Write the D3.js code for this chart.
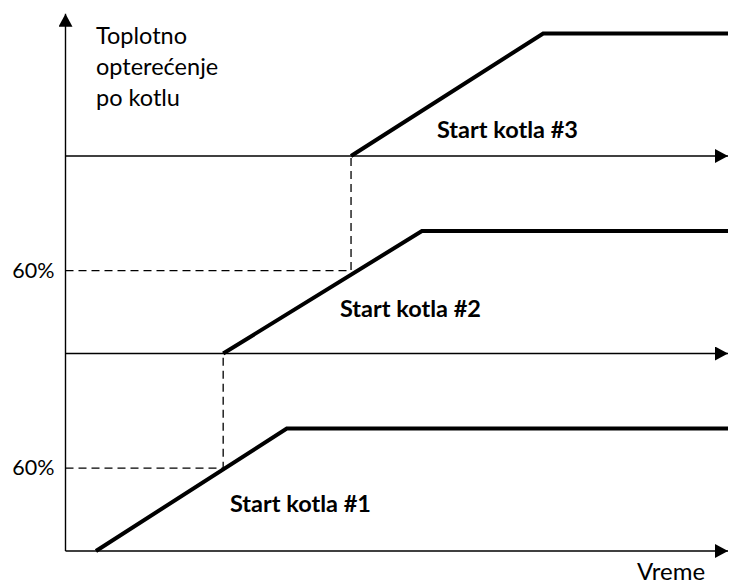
<!DOCTYPE html>
<html>
<head>
<meta charset="utf-8">
<script src="https://cdn.jsdelivr.net/npm/d3@7"></script>
<style>
  body { margin: 0; background: #fff; }
  svg text { font-family: Lato, "Open Sans", sans-serif; fill: #000; }
  .lbl { font-size: 23.5px; }
  .pct { font-size: 21.5px; }
  .start { font-size: 23.5px; font-weight: bold; }
</style>
</head>
<body>
<div id="chart"></div>
<script>
// Boilers: time at which each one starts and reaches full load (time axis 0..100)
var boilerNames  = ['Start kotla #1', 'Start kotla #2', 'Start kotla #3'];
var rampStart    = [4.6, 23.8, 43.1];
var rampEnd      = [33.4, 53.8, 72.1];
var baseLevels   = [0, 100, 200];   // each boiler has its own baseline on the load axis
var fullLoad     = 62;              // plateau height above its baseline
var thresholdLoad = 42;             // the "60%" level
var thresholdLabels = ['60%', '60%'];
var yTitle = ['Toplotno', 'optere\u0107enje', 'po kotlu'];
var xTitle = 'Vreme';
var timeMax = 100;
var loadMax = 272;

var width = 734, height = 585;

var svg = d3.select('#chart').append('svg')
    .attr('width', width)
    .attr('height', height);

var x = d3.scaleLinear().domain([0, timeMax]).range([65.5, 728]);
var y = d3.scaleLinear().domain([0, 200]).range([551, 156]);

// arrow marker
svg.append('defs').append('marker')
    .attr('id', 'arrow')
    .attr('viewBox', '0 0 13 14')
    .attr('refX', 13).attr('refY', 7)
    .attr('markerWidth', 13).attr('markerHeight', 14)
    .attr('markerUnits', 'userSpaceOnUse')
    .attr('orient', 'auto')
  .append('path')
    .attr('d', 'M0,0 L13,7 L0,14 Z')
    .attr('fill', '#000');

// y axis
svg.append('line')
    .attr('x1', x(0)).attr('y1', y(0))
    .attr('x2', x(0)).attr('y2', y(loadMax))
    .attr('stroke', '#000').attr('stroke-width', 1.4)
    .attr('marker-end', 'url(#arrow)');

// horizontal time axes, one per boiler baseline
svg.selectAll('line.taxis')
    .data(baseLevels)
    .enter().append('line')
    .attr('class', 'taxis')
    .attr('x1', x(0)).attr('y1', function(d) { return y(d); })
    .attr('x2', x(timeMax)).attr('y2', function(d) { return y(d); })
    .attr('stroke', '#000').attr('stroke-width', 1.4)
    .attr('marker-end', 'url(#arrow)');

// dashed guides: threshold on boiler i -> start of boiler i+1
var guides = d3.range(boilerNames.length - 1).map(function(i) {
    return [[0, baseLevels[i] + thresholdLoad],
            [rampStart[i + 1], baseLevels[i] + thresholdLoad],
            [rampStart[i + 1], baseLevels[i + 1]]];
});
var line = d3.line()
    .x(function(d) { return x(d[0]); })
    .y(function(d) { return y(d[1]); });

svg.selectAll('path.guide')
    .data(guides)
    .enter().append('path')
    .attr('class', 'guide')
    .attr('d', line)
    .attr('fill', 'none')
    .attr('stroke', '#000').attr('stroke-width', 1.3)
    .attr('stroke-dasharray', '8,5');

// load curves
var curves = boilerNames.map(function(n, i) {
    return [[rampStart[i], baseLevels[i]],
            [rampEnd[i], baseLevels[i] + fullLoad],
            [timeMax, baseLevels[i] + fullLoad]];
});
svg.selectAll('path.load')
    .data(curves)
    .enter().append('path')
    .attr('class', 'load')
    .attr('d', line)
    .attr('fill', 'none')
    .attr('stroke', '#000').attr('stroke-width', 4)
    .attr('stroke-linejoin', 'miter');

// boiler labels (placed by hand, like the original drawing)
var labelPos = [[230, 512], [340, 317], [437, 138]];
svg.selectAll('text.start')
    .data(boilerNames)
    .enter().append('text')
    .attr('class', 'start')
    .attr('x', function(d, i) { return labelPos[i][0]; })
    .attr('y', function(d, i) { return labelPos[i][1]; })
    .text(function(d) { return d; });

// threshold labels
svg.selectAll('text.thr')
    .data(thresholdLabels)
    .enter().append('text')
    .attr('class', 'pct')
    .attr('x', x(0) - 11)
    .attr('y', function(d, i) { return y(baseLevels[i] + thresholdLoad) + 7; })
    .attr('text-anchor', 'end')
    .text(function(d) { return d; });

// axis titles
svg.append('text')
    .attr('class', 'lbl')
    .selectAll('tspan')
    .data(yTitle)
    .enter().append('tspan')
    .attr('x', 96)
    .attr('y', function(d, i) { return 44 + i * 31; })
    .text(function(d) { return d; });

svg.append('text')
    .attr('class', 'lbl')
    .attr('x', 671).attr('y', 580)
    .attr('text-anchor', 'middle')
    .style('font-size', '24px')
    .text(xTitle);
</script>
</body>
</html>
